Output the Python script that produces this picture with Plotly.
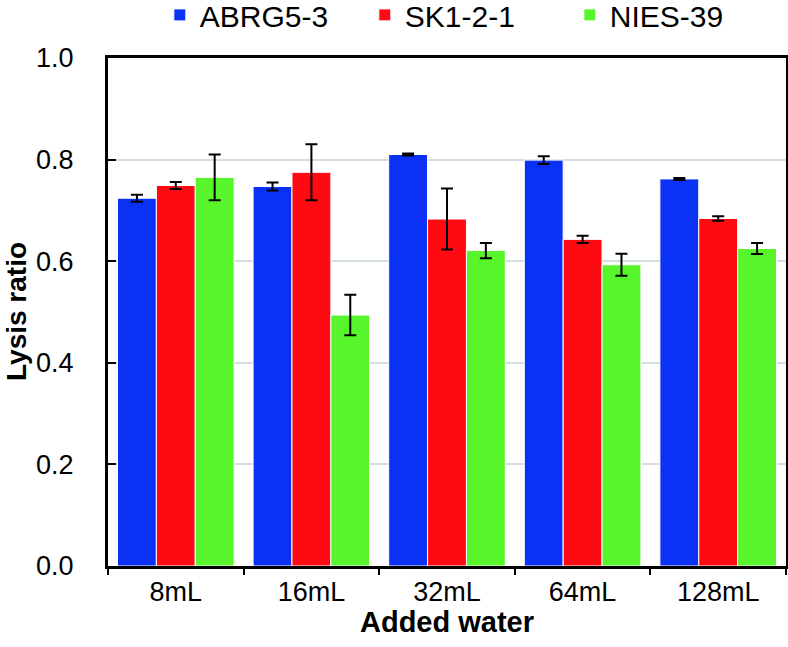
import plotly.graph_objects as go

categories = ["8mL", "16mL", "32mL", "64mL", "128mL"]
series_names = ["ABRG5-3", "SK1-2-1", "NIES-39"]
abrg_vals = [0.724, 0.747, 0.810, 0.799, 0.762]
abrg_err = [0.007, 0.008, 0.002, 0.0075, 0.002]
sk_vals = [0.749, 0.775, 0.683, 0.643, 0.684]
sk_err = [0.007, 0.055, 0.060, 0.007, 0.0045]
nies_vals = [0.765, 0.494, 0.621, 0.593, 0.625]
nies_err = [0.045, 0.040, 0.015, 0.0215, 0.011]
colors = ["#0B32F4", "#FF0A12", "#58F52C"]
y_ticks = [0.0, 0.2, 0.4, 0.6, 0.8, 1.0]

font_family = "Liberation Sans, Arial, sans-serif"

fig = go.Figure()
for name, vals, errs, col in zip(series_names, [abrg_vals, sk_vals, nies_vals],
                                 [abrg_err, sk_err, nies_err], colors):
    fig.add_trace(go.Bar(
        x=categories, y=vals, name=name,
        marker=dict(color=col, line=dict(color="white", width=1)),
        error_y=dict(type="data", array=errs, visible=True, color="black",
                     thickness=2, width=6),
    ))

fig.update_layout(
    width=788, height=647,
    margin=dict(l=108, r=2, t=58, b=81, autoexpand=False),
    plot_bgcolor="white", paper_bgcolor="white",
    barmode="group", bargap=0.14, bargroupgap=0.0,
    font=dict(family=font_family, size=27, color="black"),
    legend=dict(orientation="h", x=0.53, xanchor="center", xref="paper",
                y=0.977, yanchor="middle", yref="container",
                font=dict(size=30), traceorder="normal",
                entrywidth=160, entrywidthmode="pixels"),
    showlegend=True,
    annotations=[
        dict(text="<b>Added water</b>", xref="paper", yref="paper",
             x=0.5, y=0, yshift=-56, xanchor="center", yanchor="middle",
             showarrow=False, font=dict(size=29)),
        dict(text="<b>Lysis ratio</b>", xref="paper", yref="paper",
             x=0, xshift=-92, y=0.5, textangle=-90, xanchor="center",
             yanchor="middle", showarrow=False, font=dict(size=28)),
    ],
)

fig.update_xaxes(
    automargin=False,
    showline=True, linecolor="black", linewidth=3, mirror=True,
    ticks="outside", tickson="boundaries", ticklen=6, tickwidth=2, tickcolor="black",
    tickfont=dict(size=27), ticklabelstandoff=0,
)
fig.update_yaxes(
    automargin=False,
    range=[0, 1.0], tickvals=y_ticks, ticktext=[f"{v:.1f}" for v in y_ticks],
    showline=True, linecolor="black", linewidth=3, mirror=True,
    ticks="inside", ticklen=8, tickwidth=2, tickcolor="black",
    showgrid=True, gridcolor="#D3DEE3", gridwidth=2,
    zeroline=False,
    tickfont=dict(size=27), ticklabelstandoff=26,
)

fig.write_html("out.html", config={"displayModeBar": False},
               post_script="document.body.style.margin='0px';")
